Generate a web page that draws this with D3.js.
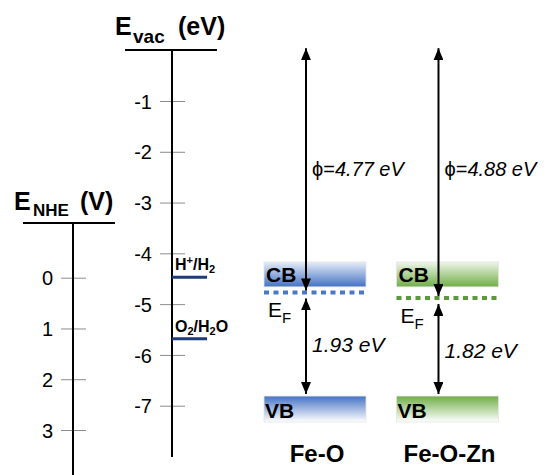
<!DOCTYPE html>
<html>
<head>
<meta charset="utf-8">
<script src="https://cdn.jsdelivr.net/npm/d3@7"></script>
<style>
  body { margin: 0; background: #fff; }
  text { font-family: 'Liberation Sans', Arial, sans-serif; }
</style>
</head>
<body>
<script>
// data
var vacTicks = [-1, -2, -3, -4, -5, -6, -7];
var nheTicks = [0, 1, 2, 3];
var redoxNames = [['H', '+', '/H', '2', ''], ['O', '2', '/H', '2', 'O']];
var redoxLevels = [-4.47, -5.68];
var materials = ['Fe-O', 'Fe-O-Zn'];
var fermi = [-4.77, -4.88];
var cbTop = [-4.17, -4.17];
var cbBottom = [-4.66, -4.66];
var vbTop = [-6.81, -6.81];
var vbBottom = [-7.32, -7.32];
var phiLabels = ['4.77 eV', '4.88 eV'];
var gapLabels = ['1.93 eV', '1.82 eV'];
var colors = ['#4472c4', '#70ad47'];
var dotColors = ['#4a78c8', '#5a9a3a'];
var lightColors = ['#e6ecf7', '#eef6e9'];

var W = 547, H = 475;
var svg = d3.select('body').append('svg')
  .attr('width', W)
  .attr('height', H);

var yE = d3.scaleLinear().domain([0, -7]).range([50.2, 405.7]);
var yN = d3.scaleLinear().domain([0, 3]).range([277.7, 430]);
var x = d3.scaleBand().domain(materials).range([264, 498.5]).paddingInner(0.23);

var vacX = 172, nheX = 73;
var fmt = function(d) { return String(d); };

// gradients
var defs = svg.append('defs');
materials.forEach(function(m, i) {
  var cb = defs.append('linearGradient').attr('id', 'cb' + i)
    .attr('x1', 0).attr('y1', 0).attr('x2', 0).attr('y2', 1);
  cb.append('stop').attr('offset', '0%').attr('stop-color', lightColors[i]);
  cb.append('stop').attr('offset', '100%').attr('stop-color', colors[i]);
  var vb = defs.append('linearGradient').attr('id', 'vb' + i)
    .attr('x1', 0).attr('y1', 0).attr('x2', 0).attr('y2', 1);
  vb.append('stop').attr('offset', '0%').attr('stop-color', colors[i]);
  vb.append('stop').attr('offset', '100%').attr('stop-color', '#ffffff');
});
defs.append('marker')
  .attr('id', 'head')
  .attr('markerUnits', 'userSpaceOnUse')
  .attr('viewBox', '0 0 12 10')
  .attr('refX', 12).attr('refY', 5)
  .attr('markerWidth', 12).attr('markerHeight', 10)
  .attr('orient', 'auto-start-reverse')
  .append('path')
  .attr('d', 'M0,0 L12,5 L0,10 Z')
  .style('fill', '#000');

// vacuum axis
var vacAxis = svg.append('g')
  .attr('transform', 'translate(' + vacX + ',0)')
  .call(d3.axisLeft(yE).tickValues(vacTicks).tickSize(12).tickPadding(8).tickFormat(fmt));
vacAxis.select('.domain').remove();
vacAxis.selectAll('.tick line').attr('x1', -12).attr('x2', 13).style('stroke', '#8c8c8c');
vacAxis.selectAll('.tick text').style('font-size', '20px').style('font-family', "'Liberation Sans', Arial, sans-serif").attr('dy', '0.36em');

svg.append('line')
  .attr('x1', vacX).attr('x2', vacX)
  .attr('y1', 50).attr('y2', 457)
  .style('stroke', '#000').style('stroke-width', 2);
svg.append('line')
  .attr('x1', 125).attr('x2', 217)
  .attr('y1', 50).attr('y2', 50)
  .style('stroke', '#000').style('stroke-width', 2);

var vacTitle = svg.append('text')
  .attr('x', 115).attr('y', 35)
  .style('font-weight', 'bold').style('font-size', '25px');
vacTitle.append('tspan').text('E');
vacTitle.append('tspan').attr('x', 133).attr('dy', 8).style('font-size', '19px').text('vac');
vacTitle.append('tspan').attr('x', 178).attr('dy', -8).text('(eV)');

// NHE axis
var nheAxis = svg.append('g')
  .attr('transform', 'translate(' + nheX + ',0)')
  .call(d3.axisLeft(yN).tickValues(nheTicks).tickSize(12).tickPadding(8).tickFormat(fmt));
nheAxis.select('.domain').remove();
nheAxis.selectAll('.tick line').attr('x1', -12).attr('x2', 13).style('stroke', '#8c8c8c');
nheAxis.selectAll('.tick text').style('font-size', '20px').style('font-family', "'Liberation Sans', Arial, sans-serif").attr('dy', '0.36em');

svg.append('line')
  .attr('x1', nheX).attr('x2', nheX)
  .attr('y1', 223).attr('y2', H)
  .style('stroke', '#000').style('stroke-width', 2);
svg.append('line')
  .attr('x1', 23).attr('x2', 115)
  .attr('y1', 223).attr('y2', 223)
  .style('stroke', '#000').style('stroke-width', 2);

var nheTitle = svg.append('text')
  .attr('x', 14).attr('y', 210)
  .style('font-weight', 'bold').style('font-size', '25px');
nheTitle.append('tspan').text('E');
nheTitle.append('tspan').attr('x', 33).attr('dy', 6).style('font-size', '17px').text('NHE');
nheTitle.append('tspan').attr('x', 80).attr('dy', -6).text('(V)');

// redox levels
redoxLevels.forEach(function(e, i) {
  svg.append('line')
    .attr('x1', vacX).attr('x2', 207)
    .attr('y1', yE(e)).attr('y2', yE(e))
    .style('stroke', '#1f3a78').style('stroke-width', 3);
  var parts = redoxNames[i];
  var t = svg.append('text')
    .attr('x', 175).attr('y', yE(e) - 7)
    .style('font-weight', 'bold').style('font-size', '16px');
  t.append('tspan').text(parts[0]);
  t.append('tspan').style('font-size', '11px').attr('dy', i === 0 ? -6 : 3).text(parts[1]);
  t.append('tspan').attr('dy', i === 0 ? 6 : -3).text(parts[2]);
  t.append('tspan').style('font-size', '11px').attr('dy', 3).text(parts[3]);
  t.append('tspan').attr('dy', -3).text(parts[4]);
});

// bands
materials.forEach(function(m, i) {
  var x0 = x(m), bw = x.bandwidth();
  var ax = x0 + 42;

  svg.append('rect')
    .attr('x', x0).attr('y', yE(cbTop[i]))
    .attr('width', bw).attr('height', yE(cbBottom[i]) - yE(cbTop[i]))
    .style('fill', 'url(#cb' + i + ')').style('stroke', '#e4e4e4').style('stroke-width', 0.8);
  svg.append('rect')
    .attr('x', x0).attr('y', yE(vbTop[i]))
    .attr('width', bw).attr('height', yE(vbBottom[i]) - yE(vbTop[i]))
    .style('fill', 'url(#vb' + i + ')').style('stroke', '#e4e4e4').style('stroke-width', 0.8);

  svg.append('text')
    .attr('x', x0 + 2).attr('y', yE(cbBottom[i]) - 5)
    .style('font-weight', 'bold').style('font-size', '21px')
    .text('CB');
  svg.append('text')
    .attr('x', x0 + 1).attr('y', yE(vbBottom[i]) - 4)
    .style('font-weight', 'bold').style('font-size', '21px')
    .text('VB');

  // fermi level
  svg.append('line')
    .attr('x1', x0).attr('x2', x0 + bw + 2)
    .attr('y1', yE(fermi[i])).attr('y2', yE(fermi[i]))
    .style('stroke', dotColors[i]).style('stroke-width', 4)
    .style('stroke-dasharray', '5,4.5');

  var ef = svg.append('text')
    .attr('x', x0 + 4).attr('y', yE(fermi[i]) + 25)
    .style('font-size', '21px');
  ef.append('tspan').text('E');
  ef.append('tspan').attr('dy', 6).style('font-size', '15px').text('F');

  // arrows
  svg.append('line')
    .attr('x1', ax).attr('x2', ax)
    .attr('y1', yE(0) - 2).attr('y2', yE(fermi[i]) - 2)
    .style('stroke', '#000').style('stroke-width', 2)
    .attr('marker-start', 'url(#head)').attr('marker-end', 'url(#head)');
  svg.append('line')
    .attr('x1', ax).attr('x2', ax)
    .attr('y1', yE(fermi[i]) + 6).attr('y2', yE(vbTop[i]) - 2)
    .style('stroke', '#000').style('stroke-width', 2)
    .attr('marker-start', 'url(#head)').attr('marker-end', 'url(#head)');

  var phi = svg.append('text')
    .attr('x', ax + 6).attr('y', 176)
    .style('font-size', '20px');
  phi.append('tspan').text('\u03d5=');
  phi.append('tspan').style('font-style', 'italic').text(phiLabels[i]);

  svg.append('text')
    .attr('x', ax + 6).attr('y', yE(fermi[i]) + 60)
    .style('font-size', '21px').style('font-style', 'italic')
    .text(gapLabels[i]);

  svg.append('text')
    .attr('x', x0 + bw / 2 + 2).attr('y', 462)
    .attr('text-anchor', 'middle')
    .style('font-weight', 'bold').style('font-size', '24px')
    .text(m);
});
</script>
</body>
</html>
